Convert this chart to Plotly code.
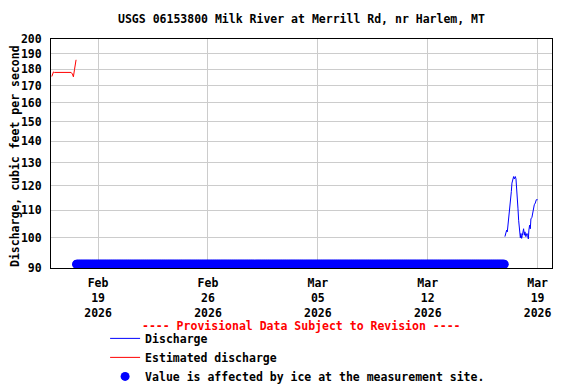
import math
import pandas as pd
import plotly.graph_objects as go

TITLE = "USGS 06153800 Milk River at Merrill Rd, nr Harlem, MT"
Y_TITLE = "Discharge, cubic feet per second"
PROVISIONAL = "---- Provisional Data Subject to Revision ----"

# Estimated discharge (red)
est_time = ["2026-02-16 01:15", "2026-02-16 03:45", "2026-02-16 05:15", "2026-02-17 06:45",
            "2026-02-17 08:45", "2026-02-17 10:15", "2026-02-17 12:00", "2026-02-17 14:20"]
est_value = [175.5, 178.3, 178.0, 178.0, 177.0, 175.3, 180.0, 186.0]

# Discharge (blue)
dis_time = ["2026-03-16 22:00", "2026-03-16 23:10", "2026-03-17 00:40", "2026-03-17 01:40",
            "2026-03-17 02:40", "2026-03-17 04:10", "2026-03-17 05:15", "2026-03-17 06:20",
            "2026-03-17 07:50", "2026-03-17 08:45", "2026-03-17 09:50", "2026-03-17 11:20",
            "2026-03-17 12:25", "2026-03-17 13:55", "2026-03-17 14:55", "2026-03-17 15:55",
            "2026-03-17 17:00", "2026-03-17 17:55", "2026-03-17 19:00", "2026-03-17 20:30",
            "2026-03-17 21:35", "2026-03-17 22:30", "2026-03-17 23:35", "2026-03-18 00:35",
            "2026-03-18 01:30", "2026-03-18 02:35", "2026-03-18 03:40", "2026-03-18 04:35",
            "2026-03-18 06:05", "2026-03-18 07:40", "2026-03-18 08:45", "2026-03-18 09:50",
            "2026-03-18 10:40", "2026-03-18 11:45", "2026-03-18 12:50", "2026-03-18 13:45",
            "2026-03-18 15:20", "2026-03-18 16:20", "2026-03-18 17:55", "2026-03-18 18:55",
            "2026-03-18 20:30", "2026-03-18 22:00", "2026-03-19 00:00"]
dis_value = [100.4, 102.1, 102.7, 102.1, 104.5, 105.7, 110.9, 113.5,
             117.5, 121.0, 123.1, 123.8, 122.8, 123.8, 122.8, 119.6,
             114.9, 110.9, 106.3, 102.1, 100.0, 101.5, 99.8, 100.8,
             102.1, 103.2, 100.9, 102.1, 100.4, 101.5, 100.8, 99.6,
             102.7, 104.5, 103.2, 106.8, 107.4, 109.3, 110.9, 112.2,
             112.9, 114.2, 114.2]

# Ice-affected period (markers drawn along the bottom of the chart)
ICE_START = "2026-02-17 15:00"
ICE_END = "2026-03-16 21:00"
ICE_LEVEL = 91.2

# Axes
x_range = ["2026-02-16 00:00", "2026-03-19 22:00"]
x_tickvals = ["2026-02-19", "2026-02-26", "2026-03-05", "2026-03-12", "2026-03-19"]
x_ticktext = ["Feb<br>19<br>2026", "Feb<br>26<br>2026", "Mar<br>05<br>2026",
              "Mar<br>12<br>2026", "Mar<br>19<br>2026"]
y_tickvals = [90, 100, 110, 120, 130, 140, 150, 160, 170, 180, 190, 200]
y_range = [90, 200]

FONT = "DejaVu Sans Mono"
FS = 11.5

# The page body has an 8px margin, so the figure is drawn 8px smaller and offset.
PAGE_OFF = 8
W, H = 576 - PAGE_OFF, 384 - PAGE_OFF

ice_time = pd.date_range(ICE_START, ICE_END, freq="1h")
ice_value = [ICE_LEVEL] * len(ice_time)

fig = go.Figure()
fig.add_trace(go.Scatter(x=pd.to_datetime(dis_time), y=dis_value, mode="lines",
                         line=dict(color="#0000ff", width=1), name="Discharge"))
fig.add_trace(go.Scatter(x=pd.to_datetime(est_time), y=est_value, mode="lines",
                         line=dict(color="#ff0000", width=1), name="Estimated discharge"))
fig.add_trace(go.Scatter(x=ice_time, y=ice_value, mode="markers",
                         marker=dict(color="#0000ff", size=9, line=dict(width=0)),
                         name="Value is affected by ice at the measurement site."))

bold = dict(family=FONT, size=FS, color="black", weight="bold")
plot_w, plot_h = 501, 229

fig.update_layout(
    width=W, height=H,
    margin=dict(l=51 - PAGE_OFF, r=24, t=39 - PAGE_OFF, b=116, autoexpand=False),
    paper_bgcolor="white", plot_bgcolor="white",
    font=bold,
    title=dict(text=TITLE, x=0.5, xref="paper", xanchor="center",
               y=1 - (19 - PAGE_OFF) / H, yref="container", yanchor="middle", font=bold),
    showlegend=True,
    legend=dict(
        x=0.108, xanchor="left", y=-0.244, yanchor="top",
        bgcolor="rgba(0,0,0,0)", borderwidth=0,
        font=bold, tracegroupgap=0,
    ),
    annotations=[
        dict(text=PROVISIONAL, x=0.5, xref="paper", xanchor="center",
             y=-(326 - 268) / plot_h, yref="paper", yanchor="middle",
             showarrow=False,
             font=dict(family=FONT, size=FS, color="#ff0000", weight="bold")),
        dict(text=Y_TITLE, textangle=-90, x=-(51 - 15) / plot_w, xref="paper", xanchor="center",
             y=(268 - 156) / plot_h, yref="paper", yanchor="middle",
             showarrow=False, font=bold),
    ],
    xaxis=dict(
        type="date", range=x_range, tickmode="array", tickvals=x_tickvals, ticktext=x_ticktext,
        showgrid=True, gridcolor="#cccccc", gridwidth=1,
        showline=True, linecolor="black", linewidth=1, mirror=True,
        ticks="", zeroline=False, ticklabelstandoff=4, automargin=False,
        tickfont=bold,
    ),
    yaxis=dict(
        type="log", range=[math.log10(y_range[0]), math.log10(y_range[1])],
        tickmode="array", tickvals=y_tickvals, ticktext=[str(v) for v in y_tickvals],
        showgrid=True, gridcolor="#cccccc", gridwidth=1,
        showline=True, linecolor="black", linewidth=1, mirror=True,
        ticks="", zeroline=False, ticklabelstandoff=6, automargin=False,
        tickfont=bold,
    ),
)

fig.write_html("out.html")
